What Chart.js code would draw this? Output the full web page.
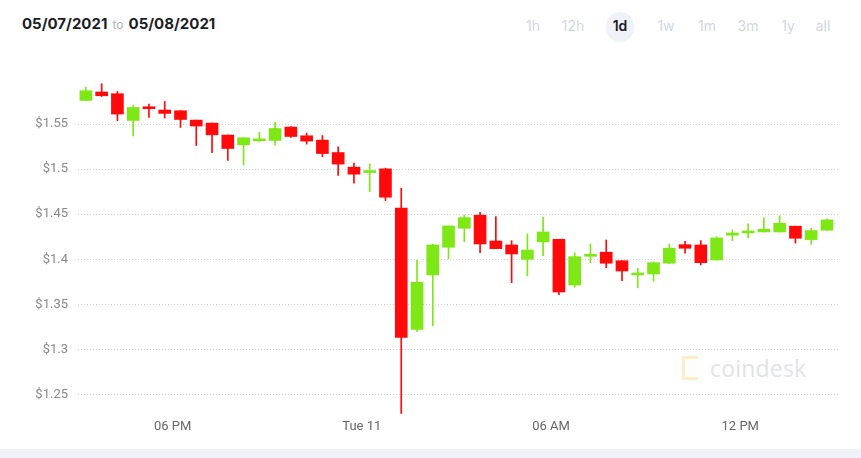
<!DOCTYPE html>
<html>
<head>
<meta charset="utf-8">
<script src="https://cdn.jsdelivr.net/npm/chart.js@4/dist/chart.umd.min.js"></script>
<style>
  body { margin: 0; background: #fff; font-family: Inter, "Noto Sans", sans-serif; }
  #page { position: relative; width: 861px; height: 458px; overflow: hidden; }
  .range { position: absolute; top: 14px; left: 22px; font-size: 15px; font-weight: 700; color: #1c1d26; white-space: nowrap; }
  .range .to { font-size: 12px; font-weight: 500; color: #b7bbc3; margin: 0 5px; }
  .btn { position: absolute; top: 17px; width: 40px; text-align: center; font-size: 14px; color: #d3d6dd; }
  .btn.on { color: #1b1c23; font-weight: 600; }
  .pill { position: absolute; left: 606px; top: 12px; width: 28px; height: 30px; border-radius: 14px; background: #eff2f8; }
  .mark { position: absolute; left: 710px; top: 352px; font-size: 23px; color: #e2e3e6; font-family: "Open Sans", sans-serif; letter-spacing: 0.2px; }
  .logo { position: absolute; left: 682px; top: 356px; width: 13px; height: 18px; border: 3px solid #fdeec8; border-right: none; }
  .band { position: absolute; left: 0; top: 449px; width: 861px; height: 9px; background: #eff2f9; }
  canvas { position: absolute; left: 0; top: 0; }
</style>
</head>
<body>
<div id="page">
  <div class="range">05/07/2021<span class="to">to</span>05/08/2021</div>
  <div class="pill"></div>
  <div id="btns"></div>
  <div class="logo"></div>
  <div class="mark">coindesk</div>
  <div class="band"></div>
  <canvas id="chart" width="861" height="446"></canvas>
</div>
<script>
// 30 minute candles
const times = [
  '10 15:15', '10 15:45', '10 16:15', '10 16:45', '10 17:15', '10 17:45',
  '10 18:15', '10 18:45', '10 19:15', '10 19:45', '10 20:15', '10 20:45',
  '10 21:15', '10 21:45', '10 22:15', '10 22:45', '10 23:15', '10 23:45',
  '11 00:15', '11 00:45', '11 01:15', '11 01:45', '11 02:15', '11 02:45',
  '11 03:15', '11 03:45', '11 04:15', '11 04:45', '11 05:15', '11 05:45',
  '11 06:15', '11 06:45', '11 07:15', '11 07:45', '11 08:15', '11 08:45',
  '11 09:15', '11 09:45', '11 10:15', '11 10:45', '11 11:15', '11 11:45',
  '11 12:15', '11 12:45', '11 13:15', '11 13:45', '11 14:15', '11 14:45'
];
const opens = [
  1.5762, 1.5856, 1.5837, 1.5540, 1.5678, 1.5656, 1.5648, 1.5544, 1.5511, 1.5378, 1.5270, 1.5314,
  1.5318, 1.5467, 1.5370, 1.5322, 1.5184, 1.5022, 1.4962, 1.5003, 1.4567, 1.3222, 1.3826, 1.4133,
  1.4344, 1.4489, 1.4203, 1.4159, 1.3999, 1.4192, 1.4222, 1.3714, 1.4033, 1.4078, 1.3984, 1.3826,
  1.3837, 1.3956, 1.4162, 1.4159, 1.3992, 1.4267, 1.4292, 1.4303, 1.4303, 1.4367, 1.4218, 1.4322
];
const highs = [
  1.5911, 1.5948, 1.5862, 1.5707, 1.5722, 1.5751, 1.5648, 1.5544, 1.5511, 1.5378, 1.5348, 1.5411,
  1.5522, 1.5473, 1.5400, 1.5373, 1.5248, 1.5067, 1.5059, 1.5011, 1.4789, 1.3992, 1.4167, 1.4370,
  1.4492, 1.4522, 1.4473, 1.4207, 1.4281, 1.4467, 1.4222, 1.4073, 1.4170, 1.4214, 1.3984, 1.3900,
  1.3970, 1.4167, 1.4200, 1.4207, 1.4251, 1.4326, 1.4392, 1.4459, 1.4484, 1.4367, 1.4344, 1.4448
];
const lows = [
  1.5762, 1.5807, 1.5537, 1.5370, 1.5573, 1.5567, 1.5462, 1.5262, 1.5184, 1.5096, 1.5044, 1.5307,
  1.5267, 1.5351, 1.5278, 1.5137, 1.4929, 1.4844, 1.4751, 1.4651, 1.2289, 1.3196, 1.3262, 1.4007,
  1.4196, 1.4073, 1.4118, 1.3740, 1.3814, 1.4040, 1.3607, 1.3689, 1.3962, 1.3907, 1.3762, 1.3684,
  1.3756, 1.3956, 1.4067, 1.3937, 1.3992, 1.4207, 1.4240, 1.4303, 1.4303, 1.4178, 1.4167, 1.4322
];
const closes = [
  1.5870, 1.5814, 1.5611, 1.5684, 1.5670, 1.5618, 1.5551, 1.5478, 1.5381, 1.5229, 1.5348, 1.5322,
  1.5451, 1.5362, 1.5311, 1.5173, 1.5056, 1.4944, 1.4970, 1.4689, 1.3133, 1.3744, 1.4159, 1.4370,
  1.4462, 1.4170, 1.4118, 1.4059, 1.4103, 1.4303, 1.3637, 1.4029, 1.4040, 1.3956, 1.3870, 1.3833,
  1.3962, 1.4122, 1.4122, 1.3962, 1.4237, 1.4292, 1.4314, 1.4333, 1.4400, 1.4233, 1.4318, 1.4437
];
const yTicks = [1.25, 1.3, 1.35, 1.4, 1.45, 1.5, 1.55];
const xTicks = [-6, 0, 6, 12];
const xTickLabels = ['06 PM', 'Tue 11', '06 AM', '12 PM'];
const ranges = ['1h', '12h', '1d', '1w', '1m', '3m', '1y', 'all'];

const UP = '#7ee817';
const DOWN = '#ff0a0a';

// range buttons in the header
const btnX = [533, 573, 620, 666, 707, 748, 788, 823];
const btns = document.getElementById('btns');
ranges.forEach(function (r, i) {
    const el = document.createElement('div');
    el.className = 'btn' + (r === '1d' ? ' on' : '');
    el.style.left = (btnX[i] - 20) + 'px';
    el.textContent = r;
    btns.appendChild(el);
});

// hours relative to midnight of the 11th
const hours = times.map(function (t) {
    const day = parseInt(t.slice(0, 2), 10);
    const hm = t.slice(3).split(':');
    return (day - 11) * 24 + parseInt(hm[0], 10) + parseInt(hm[1], 10) / 60;
});
const colors = opens.map(function (o, i) {
    return closes[i] >= o ? UP : DOWN;
});

new Chart(document.getElementById('chart'), {
    type: 'bar',
    data: {
        datasets: [
            {
                // wicks: thin floating bars low..high
                data: hours.map(function (h, i) { return { x: h, y: [lows[i], highs[i]] }; }),
                backgroundColor: colors,
                barThickness: 1,
                grouped: false,
                order: 2,
            },
            {
                // bodies: open..close
                data: hours.map(function (h, i) { return { x: h, y: [opens[i], closes[i]] }; }),
                backgroundColor: colors,
                barThickness: 12,
                minBarLength: 2,
                grouped: false,
                order: 1,
            },
        ],
    },
    options: {
        responsive: false,
        animation: false,
        layout: { padding: { top: 79, right: 23, left: 0, bottom: 0 } },
        plugins: { legend: { display: false }, tooltip: { enabled: false } },
        scales: {
            x: {
                type: 'linear',
                offset: false,
                min: -9,
                max: 15.1,
                afterBuildTicks: function (scale) {
                    scale.ticks = xTicks.map(function (v) { return { value: v }; });
                },
                afterFit: function (scale) { scale.height = 29; },
                grid: { display: false, drawTicks: false, offset: false },
                border: { display: false },
                ticks: {
                    padding: 2,
                    color: '#666',
                    font: { family: 'Roboto', size: 13 },
                    maxRotation: 0,
                    callback: function (v) {
                        const idx = xTicks.indexOf(v);
                        return idx >= 0 ? xTickLabels[idx] : '';
                    },
                },
            },
            y: {
                min: 1.225,
                max: 1.6,
                afterBuildTicks: function (scale) {
                    scale.ticks = yTicks.map(function (v) { return { value: v }; });
                },
                afterFit: function (scale) { scale.width = 78; },
                grid: { color: '#d2d2d2', drawTicks: false },
                border: { display: false, dash: [1, 2] },
                ticks: {
                    padding: 10,
                    color: '#888',
                    font: { family: 'Roboto', size: 13 },
                    callback: function (v) { return '$' + v; },
                },
            },
        },
    },
});
</script>
</body>
</html>
